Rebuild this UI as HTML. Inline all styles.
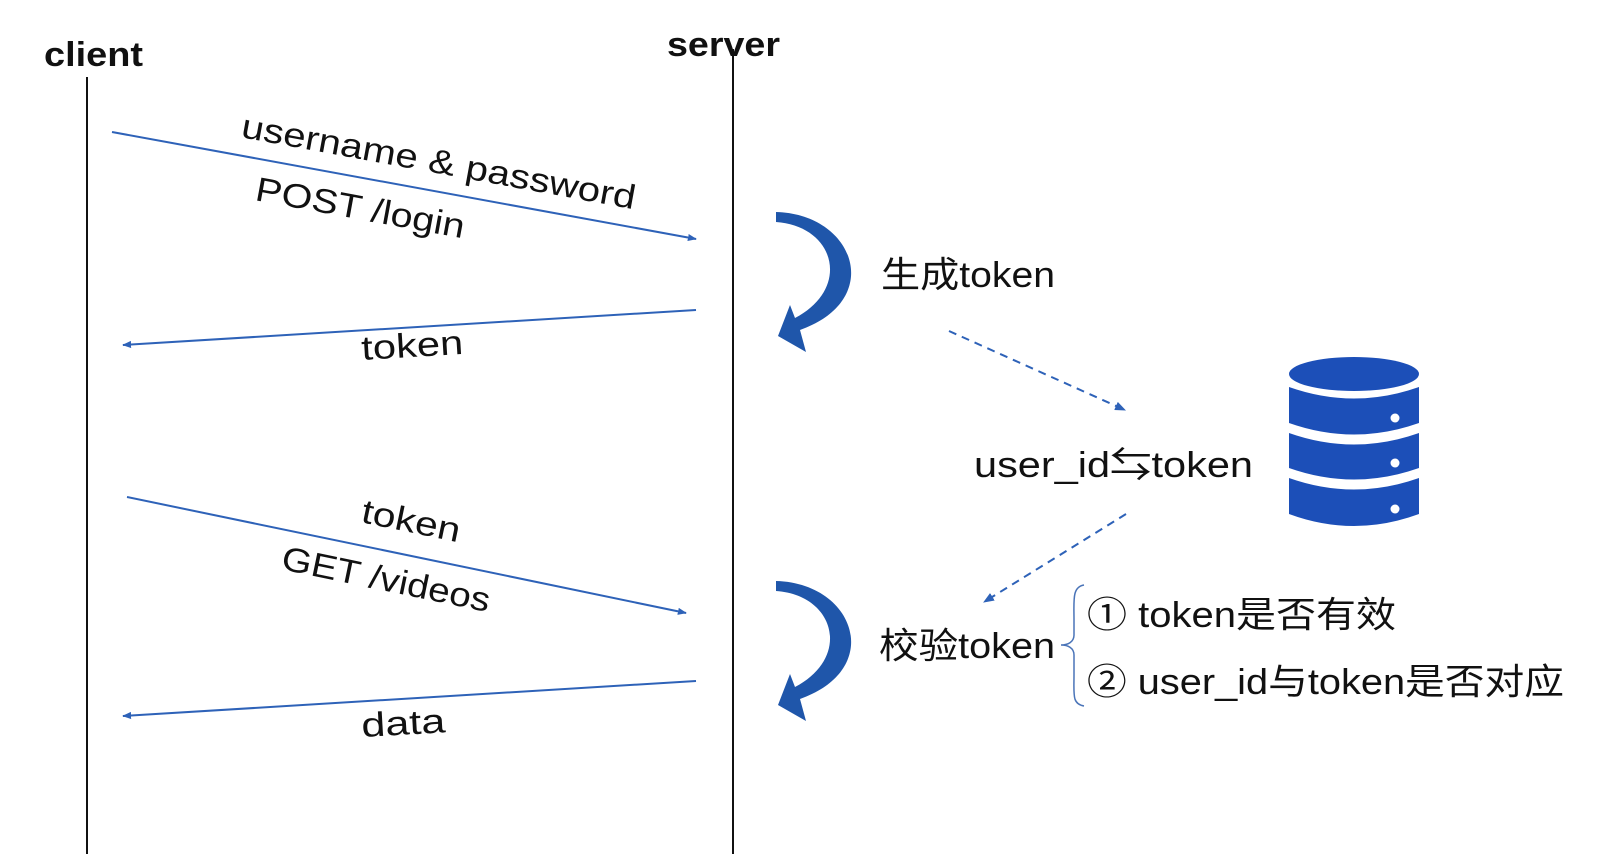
<!DOCTYPE html>
<html><head><meta charset="utf-8"><style>
html,body{margin:0;padding:0;background:#fff;}
svg{display:block;}
text{font-family:"Liberation Sans","Noto Sans CJK SC",sans-serif;fill:#111;}
</style></head><body>
<svg width="1622" height="854" viewBox="0 0 1622 854" xmlns="http://www.w3.org/2000/svg">
<defs>
<marker id="ah" viewBox="0 0 10 10" refX="9" refY="5" markerWidth="9" markerHeight="9" markerUnits="userSpaceOnUse" orient="auto">
<path d="M0,1 L10,5 L0,9 Z" fill="#2e62b8"/></marker>
<marker id="ah2" viewBox="0 0 10 10" refX="9" refY="5" markerWidth="11" markerHeight="11" markerUnits="userSpaceOnUse" orient="auto">
<path d="M0,1 L10,5 L0,9 Z" fill="#2e62b8"/></marker>
</defs>
<text x="44" y="66" font-size="34" font-weight="bold" textLength="99" lengthAdjust="spacingAndGlyphs">client</text>
<text x="667" y="56" font-size="34" font-weight="bold" textLength="113" lengthAdjust="spacingAndGlyphs">server</text>
<line x1="87" y1="77" x2="87" y2="854" stroke="#111" stroke-width="2"/>
<line x1="733" y1="49" x2="733" y2="854" stroke="#111" stroke-width="2"/>

<line x1="112" y1="132" x2="696" y2="239" stroke="#2e62b8" stroke-width="2" marker-end="url(#ah)"/>
<text transform="translate(240,137) rotate(10.4)" font-size="34" textLength="400" lengthAdjust="spacingAndGlyphs">username &amp; password</text>
<text transform="translate(254,200) rotate(10.4)" font-size="34" textLength="212" lengthAdjust="spacingAndGlyphs">POST /login</text>

<line x1="696" y1="310" x2="123" y2="345" stroke="#2e62b8" stroke-width="2" marker-end="url(#ah)"/>
<text transform="translate(362,360) rotate(-3.5)" font-size="34" textLength="102" lengthAdjust="spacingAndGlyphs">token</text>

<line x1="127" y1="497" x2="686" y2="613" stroke="#2e62b8" stroke-width="2" marker-end="url(#ah)"/>
<text transform="translate(360,522) rotate(11.7)" font-size="34" textLength="100" lengthAdjust="spacingAndGlyphs">token</text>
<text transform="translate(280,569) rotate(11.7)" font-size="34" textLength="212" lengthAdjust="spacingAndGlyphs">GET /videos</text>

<line x1="696" y1="681" x2="123" y2="716" stroke="#2e62b8" stroke-width="2" marker-end="url(#ah)"/>
<text transform="translate(362,737) rotate(-3.2)" font-size="34" textLength="84" lengthAdjust="spacingAndGlyphs">data</text>

<g fill="#1f56aa">
<path d="M776,212 C855,214 885,300 800,330 L806,352 L778,336 L790,305 L795,318 C852,288 835,226 776,222 Z"/>
</g>
<g transform="translate(0,369)" fill="#1f56aa">
<path d="M776,212 C855,214 885,300 800,330 L806,352 L778,336 L790,305 L795,318 C852,288 835,226 776,222 Z"/>
</g>

<text x="881" y="287" font-size="36" textLength="174" lengthAdjust="spacingAndGlyphs">生成token</text>

<line x1="949" y1="331" x2="1125" y2="410" stroke="#2e62b8" stroke-width="2" stroke-dasharray="8,6" marker-end="url(#ah2)"/>
<line x1="1126" y1="514" x2="984" y2="602" stroke="#2e62b8" stroke-width="2" stroke-dasharray="8,6" marker-end="url(#ah2)"/>

<text x="974" y="477" font-size="36" textLength="279" lengthAdjust="spacingAndGlyphs">user_id⇆token</text>

<g fill="#1c4fb8">
<ellipse cx="1354" cy="374" rx="65" ry="17"/>
<path d="M1289,387 Q1354,410 1419,387 L1419,423 Q1354,446 1289,423 Z"/>
<path d="M1289,433 Q1354,456 1419,433 L1419,468 Q1354,491 1289,468 Z"/>
<path d="M1289,478 Q1354,501 1419,478 L1419,514 Q1354,538 1289,514 Z"/>
</g>
<g fill="#fff">
<circle cx="1395" cy="418" r="4.5"/><circle cx="1395" cy="463" r="4.5"/><circle cx="1395" cy="509" r="4.5"/>
</g>

<text x="879" y="658" font-size="36" textLength="176" lengthAdjust="spacingAndGlyphs">校验token</text>
<path d="M1084,585 C1072,587 1074,600 1074,620 L1074,635 C1074,642 1068,645 1061,645 C1068,645 1074,648 1074,655 L1074,675 C1074,695 1072,704 1084,706" fill="none" stroke="#4a74b8" stroke-width="1.5"/>
<text x="1087" y="627" font-size="36" textLength="309" lengthAdjust="spacingAndGlyphs">① token是否有效</text>
<text x="1087" y="694" font-size="36" textLength="477" lengthAdjust="spacingAndGlyphs">② user_id与token是否对应</text>
</svg>
</body></html>
